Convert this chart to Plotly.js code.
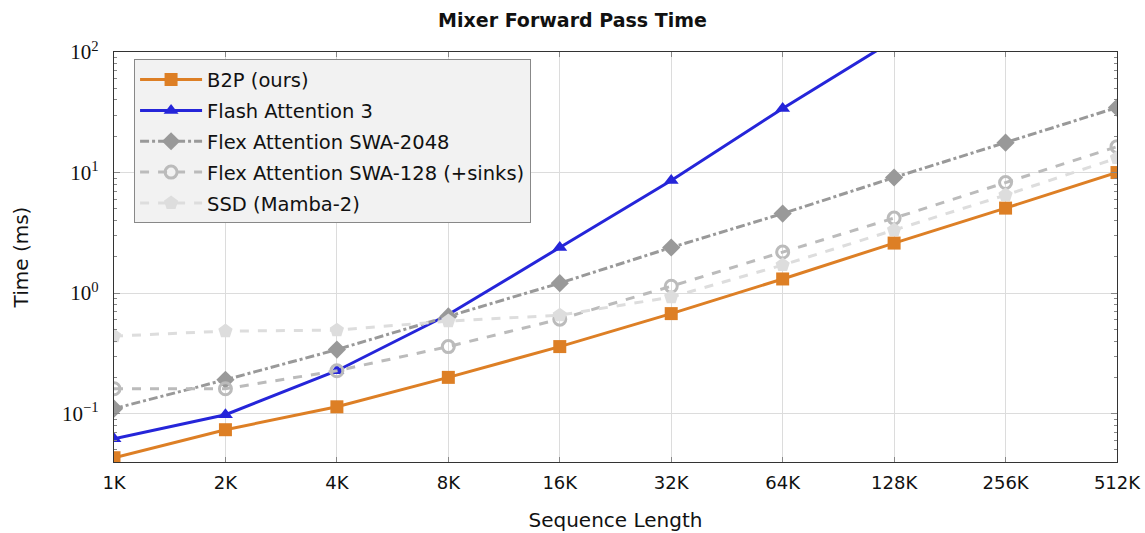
<!DOCTYPE html>
<html><head><meta charset="utf-8">
<script src="https://cdn.plot.ly/plotly-3.0.1.min.js"></script>
<style>body{margin:0;background:#fff}#c{width:1145px;height:533px}</style>
</head><body><div id="c"></div>
<script>
const seqLabels = ["1K","2K","4K","8K","16K","32K","64K","128K","256K","512K"];
const b2p   = [0.0431,0.0736,0.114,0.20,0.36,0.676,1.31,2.6,5.07,10.0];
const fa3   = [0.062,0.098,0.227,0.664,2.39,8.6,34.0,126];
const swa2048 = [0.11,0.191,0.34,0.64,1.21,2.39,4.57,9.1,17.7,34.6];
const swa128  = [0.161,0.161,0.227,0.36,0.608,1.14,2.19,4.19,8.26,16.4];
const ssd     = [0.44,0.484,0.493,0.586,0.656,0.927,1.71,3.33,6.5,13.2];
const yTickVals = [0.1,1,10,100];
const yTickText = ["10<sup>−1</sup>","10<sup>0</sup>","10<sup>1</sup>","10<sup>2</sup>"];

const minorVals = [];
[0.01,0.1,1,10].forEach(d=>{for(let k=2;k<=9;k++)minorVals.push(d*k);});

const sans = "DejaVu Sans, sans-serif";
const serif = "Liberation Serif";
function tr(name, y, color, dash, symbol, msize, extra){
  return Object.assign({
    type:'scatter', mode:'lines+markers', name:name, legendgroup:name,
    x: seqLabels.slice(0,y.length), y:y,
    line:{color:color,width:3,dash:dash},
    marker:{symbol:symbol,size:msize,color:color}
  }, extra||{});
}
const data = [
  tr("B2P (ours)", b2p, "#dd7f25", "solid", "square", 13),
  tr("Flash Attention 3", fa3, "#2525d9", "solid", "triangle-up", 13),
  tr("Flex Attention SWA-2048", swa2048, "#999999", "dashdot", "diamond", 14),
  tr("Flex Attention SWA-128 (+sinks)", swa128, "#bbbbbb", "dash", "circle-open", 12,
     {marker:{symbol:"circle-open",size:12,color:"#bbbbbb",line:{width:3,color:"#bbbbbb"}}}),
  tr("SSD (Mamba-2)", ssd, "#dddddd", "dash", "pentagon", 15)
];
const layout = {
  width:1145, height:533,
  margin:{l:114,r:28,t:52,b:71},
  paper_bgcolor:"#fff", plot_bgcolor:"#fff",
  font:{family:sans,size:18,color:"#111"},
  title:{text:"<b>Mixer Forward Pass Time</b>",x:0.5,xanchor:"center",y:0.962,yanchor:"middle",font:{family:sans,size:19}},
  showlegend:true,
  legend:{x:0.02,y:0.982,xanchor:"left",yanchor:"top",bgcolor:"#f2f2f2",bordercolor:"#888",borderwidth:1,
          font:{family:sans,size:19.5},tracegroupgap:2.5,itemwidth:62},
  xaxis:{type:"category",range:[0,9],showgrid:true,gridcolor:"#dcdcdc",gridwidth:1,
         showline:true,linecolor:"#333",linewidth:1.2,mirror:"ticks",ticks:"inside",ticklen:5,tickcolor:"#888",
         zeroline:false,tickfont:{family:sans,size:18},ticklabelstandoff:4,
         title:{text:"Sequence Length",font:{family:sans,size:20},standoff:21}},
  yaxis:{type:"log",range:[-1.401,2],tickmode:"array",tickvals:yTickVals,ticktext:yTickText,
         showgrid:true,gridcolor:"#dcdcdc",gridwidth:1,
         showline:true,linecolor:"#333",linewidth:1.2,mirror:"ticks",ticks:"inside",ticklen:6,tickcolor:"#888",
         minor:{tickmode:"array",tickvals:minorVals,ticks:"inside",ticklen:3,tickcolor:"#888",showgrid:false},
         zeroline:false,tickfont:{family:serif,size:21,color:"#111"},ticklabelstandoff:10,
         title:{text:"Time (ms)",font:{family:sans,size:20},standoff:28}}
};
Plotly.newPlot("c",data,layout,{displayModeBar:false,staticPlot:true});
</script></body></html>
